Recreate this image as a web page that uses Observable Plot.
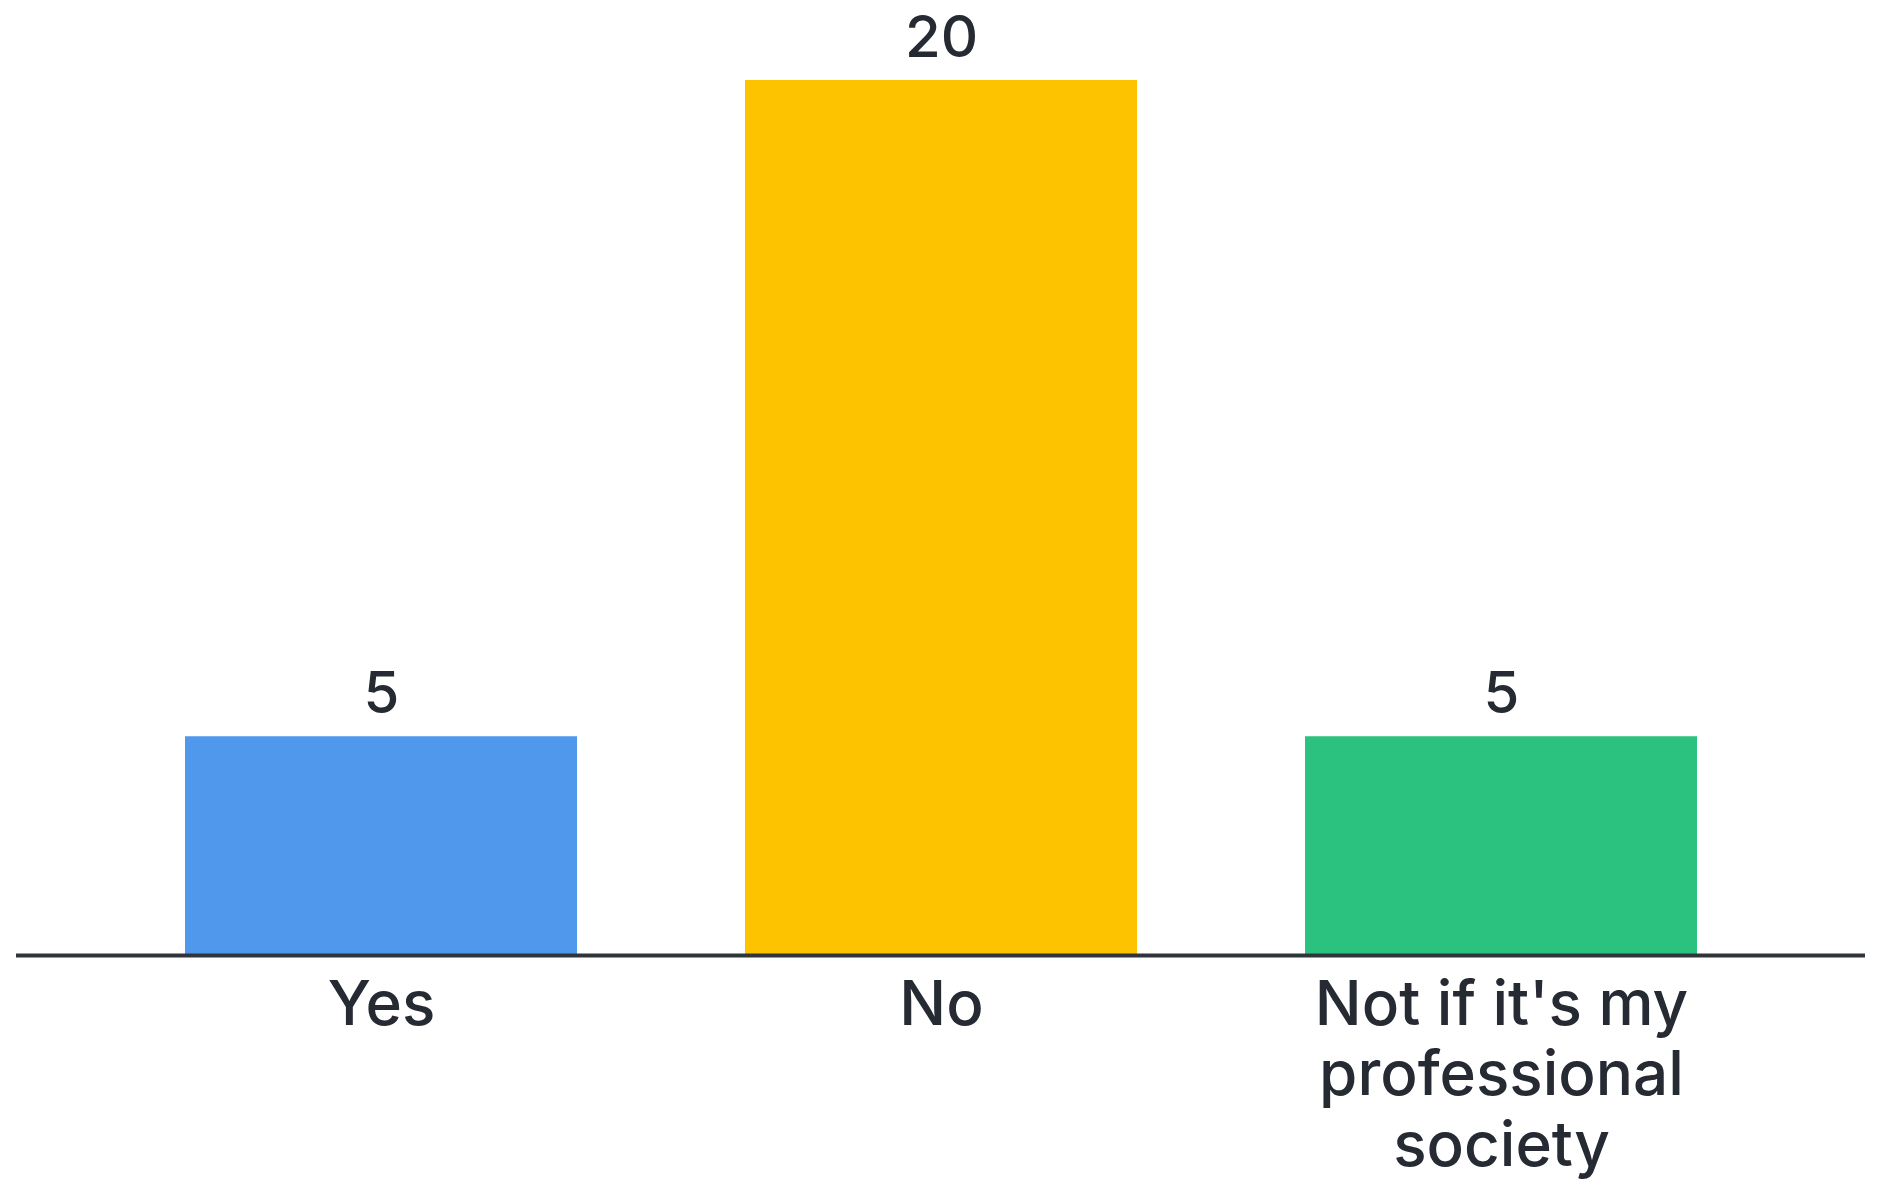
<!DOCTYPE html>
<html>
<head>
<meta charset="utf-8">
<script src="https://cdn.jsdelivr.net/npm/d3@7"></script>
<script src="https://cdn.jsdelivr.net/npm/@observablehq/plot@0.6"></script>
<style>
  html, body { margin: 0; padding: 0; background: #ffffff; }
  #chart svg { display: block; }
</style>
</head>
<body>
<div id="chart"></div>
<script>
const categories = ["Yes", "No", "Not if it's my\nprofessional\nsociety"];
const values = [5, 20, 5];
const colors = ["#4F98EC", "#FDC300", "#2BC17E"];

const data = categories.map((c, i) => ({category: c, value: values[i], color: colors[i]}));

const chart = Plot.plot({
  width: 1879,
  height: 1181,
  marginLeft: 16,
  marginRight: 14,
  marginTop: 80,
  marginBottom: 226,
  style: {fontFamily: "Inter, 'Noto Sans', sans-serif", background: "#ffffff", color: "#252A33"},
  x: {domain: categories, padding: 0.3, label: null},
  y: {domain: [0, 20], axis: null},
  marks: [
    Plot.barY(data, {x: "category", y: "value", fill: "color"}),
    Plot.ruleY([0], {stroke: "#30343B", strokeWidth: 4}),
    Plot.text(data, {x: "category", y: "value", text: d => String(d.value), dy: -24, lineAnchor: "bottom", fontSize: 58, fontWeight: 500, fill: "#252A33"}),
    Plot.axisX({tickSize: 0, tickPadding: 19, fontSize: 62, fontWeight: 500, lineHeight: 1.14, fill: "#252A33", label: null})
  ]
});
document.getElementById("chart").appendChild(chart);
</script>
</body>
</html>
